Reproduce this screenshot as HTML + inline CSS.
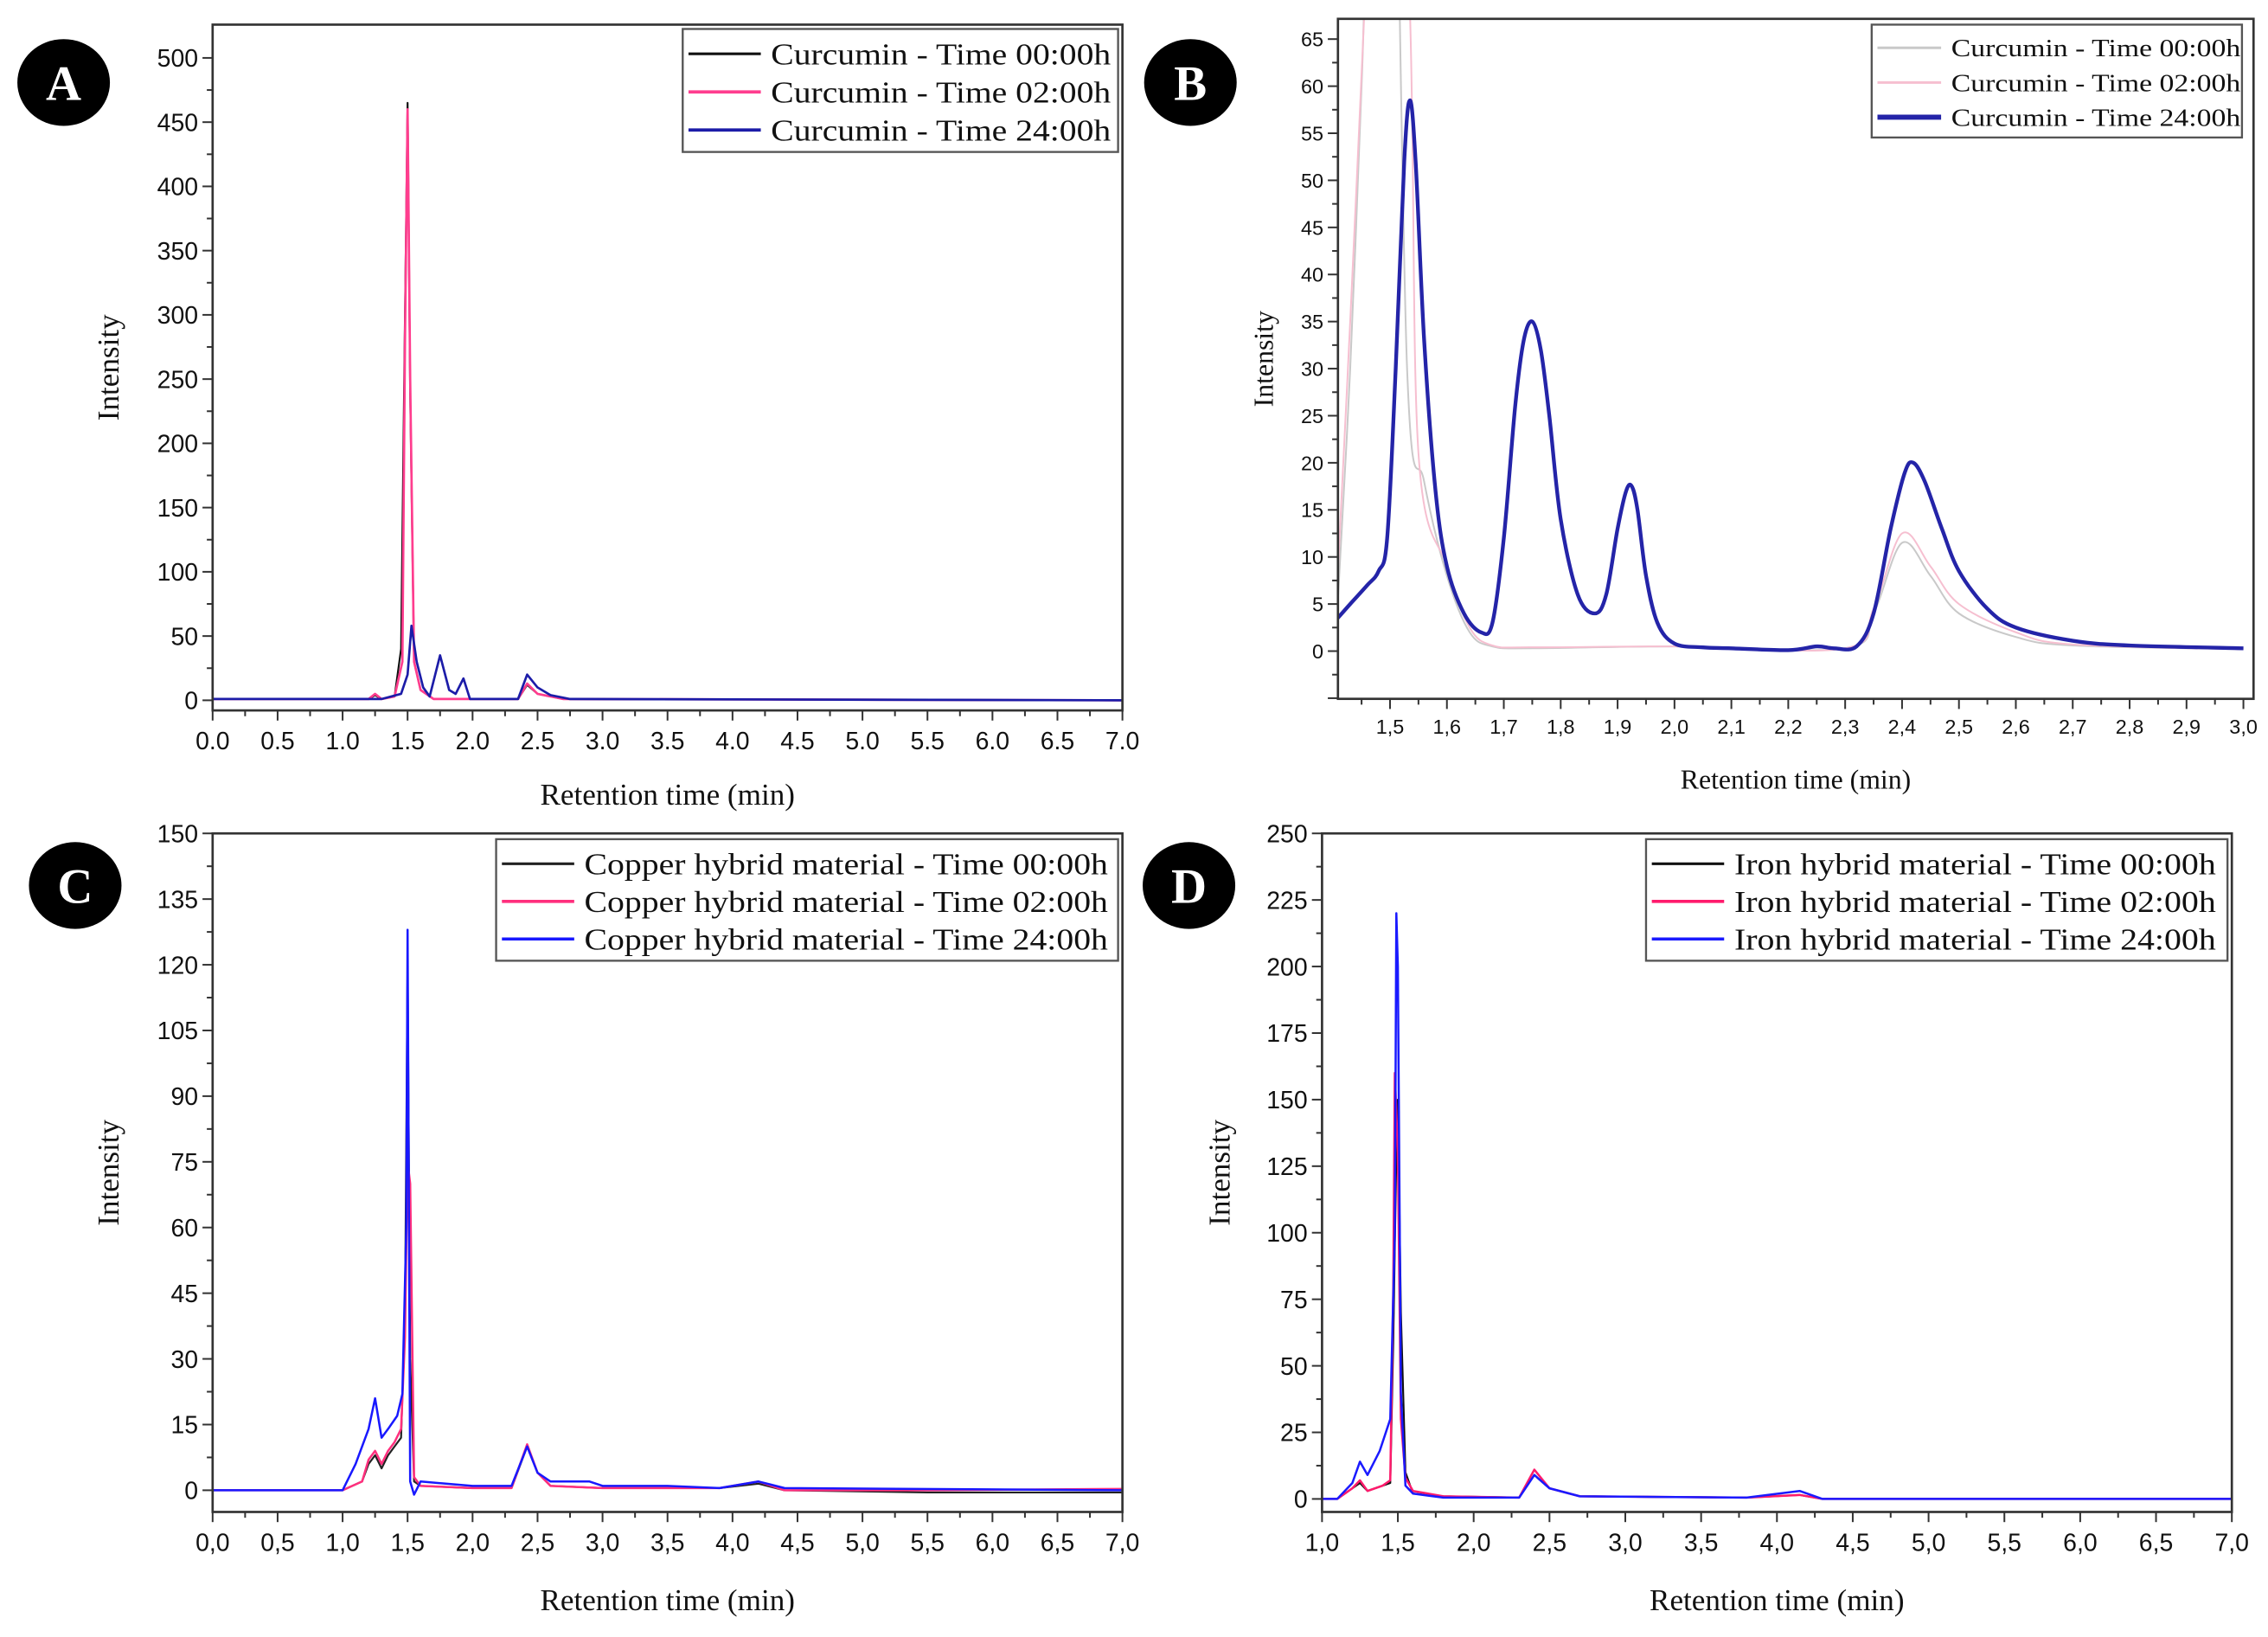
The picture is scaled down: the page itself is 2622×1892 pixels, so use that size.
<!DOCTYPE html>
<html><head><meta charset="utf-8"><style>
html,body{margin:0;padding:0;background:#fff}
svg{display:block}
.tk{font-family:"Liberation Sans",Arial,sans-serif;fill:#111}
.sf{font-family:"Liberation Serif","Times New Roman",serif;fill:#111}
</style></head><body>
<svg id="fig" width="2622" height="1892" viewBox="0 0 1568 1131.4" xmlns="http://www.w3.org/2000/svg"></svg>
<script>
// ---- Panel A data ----
const aX0=[0,1.0,1.2,1.25,1.3,1.4,1.45,1.48,1.5,1.52,1.55,1.6,1.7,2.0,2.35,2.42,2.5,2.7,7.0];
const aY0=[1,1,1,4,1,3,40,300,465,240,30,8,1,1,1,12,5,1,0];
const aX2=[0,1.0,1.2,1.25,1.3,1.4,1.46,1.48,1.5,1.52,1.55,1.6,1.7,2.0,2.35,2.42,2.5,2.7,7.0];
const aY2=[1,1,1,5,1,3,30,280,460,250,30,8,1,1,1,13,5,1,0];
const aX24=[0,1.0,1.3,1.45,1.5,1.53,1.57,1.62,1.67,1.75,1.82,1.87,1.93,1.98,2.35,2.42,2.5,2.6,2.75,7];
const aY24=[1,1,1,5,20,58,30,10,3,35,8,5,17,1,1,20,10,4,1,0];
// ---- Panel B data ----
const bX24=[1.408,1.43,1.46,1.48,1.495,1.51,1.525,1.535,1.545,1.56,1.58,1.6,1.63,1.66,1.68,1.7,1.72,1.735,1.75,1.765,1.78,1.8,1.83,1.86,1.88,1.9,1.915,1.925,1.935,1.95,1.97,2.0,2.05,2.1,2.2,2.25,2.28,2.32,2.35,2.38,2.405,2.42,2.44,2.47,2.5,2.55,2.6,2.7,2.8,3.0];
const bY24=[3.5,5,7,8.5,12,30,52,58.5,52,33,17,9,4,2,3,12,26,33,35,32,25,14,6,4,6,13,17,17.5,15,8,3,0.8,0.4,0.3,0.1,0.5,0.3,0.5,4,13,19,20,18,13,8.5,4.5,2.5,1.1,0.6,0.3];
const bX0=[1.408,1.43,1.45,1.46,1.5,1.53,1.56,1.6,1.64,1.68,1.75,2.0,2.3,2.35,2.4,2.45,2.5,2.6,2.7,3.0];
const bY0=[5,30,60,75,110,30,18,8,2,0.5,0.3,0.5,0.3,4,11.5,8,4,1.5,0.6,0.2];
const bX2=[1.408,1.43,1.455,1.47,1.5,1.535,1.55,1.6,1.64,1.68,1.75,2.0,2.3,2.35,2.4,2.45,2.5,2.6,2.7,3.0];
const bY2=[8,35,68,90,120,68,21,9,2.5,0.6,0.4,0.5,0.3,4.5,12.5,9,5,2,0.7,0.2];
// ---- Panel C data ----
const cX0=[0,1.0,1.15,1.2,1.25,1.3,1.35,1.4,1.45,1.48,1.5,1.52,1.55,1.6,2.0,2.3,2.42,2.5,2.6,3.0,3.9,4.2,4.4,5.5,7];
const cY0=[0,0,2,6,8,5,8,10,12,40,120,30,2,1,0.5,0.5,10,4,1,0.5,0.5,1.5,0,-0.5,-0.5];
const cX2=[0,1.0,1.15,1.2,1.25,1.3,1.35,1.4,1.45,1.48,1.5,1.52,1.55,1.6,2.0,2.3,2.42,2.5,2.6,3.0,3.9,4.2,4.4,5.5,7];
const cY2=[0,0,2,7,9,6,9,11,14,35,75,70,3,1,0.5,0.5,10.5,4,1,0.5,0.5,2,0,0,0.3];
const cX24=[0,1.0,1.1,1.2,1.25,1.3,1.35,1.42,1.46,1.49,1.5,1.52,1.55,1.6,2.0,2.3,2.42,2.5,2.6,2.9,3.0,3.5,3.9,4.2,4.4,7];
const cY24=[0,0,6,14,21,12,14,17,22,60,128,2,-1,2,1,1,10,4,2,2,1,1,0.5,2,0.5,0];
// ---- Panel D data ----
const dX0=[1.0,1.1,1.2,1.25,1.3,1.4,1.45,1.47,1.49,1.5,1.52,1.55,1.6,1.8,2.3,2.4,2.5,2.7,3.8,4.15,4.3,7];
const dY0=[0,0,4,6,3,5,6,60,130,150,70,10,2,1,0.5,9,4,1,0.5,1.5,0,0];
const dX2=[1.0,1.1,1.2,1.25,1.3,1.4,1.45,1.47,1.48,1.5,1.52,1.55,1.6,1.8,2.3,2.4,2.5,2.7,3.8,4.15,4.3,7];
const dY2=[0,0,4,7,3,5,7,80,160,130,30,8,3,1,0.5,11,4,1,0.5,1.5,0,0];
const dX24=[1.0,1.1,1.2,1.25,1.3,1.38,1.45,1.48,1.49,1.5,1.52,1.55,1.6,1.8,2.3,2.4,2.5,2.7,3.8,4.15,4.3,7];
const dY24=[0,0,6,14,9,18,30,100,220,200,40,5,2,0.5,0.5,9,4,1,0.5,3,0,0];

const NS="http://www.w3.org/2000/svg";
const svg=document.getElementById('fig');
function mk(tag,attrs,parent){const e=document.createElementNS(NS,tag);for(const k in attrs)e.setAttribute(k,attrs[k]);(parent||svg).appendChild(e);return e;}

function pathD(P,smooth){
  if(!smooth){return P.map((q,i)=>(i?'L':'M')+q[0].toFixed(2)+','+q[1].toFixed(2)).join('');}
  let d='M'+P[0][0].toFixed(2)+','+P[0][1].toFixed(2);
  for(let i=0;i<P.length-1;i++){
    const p0=P[i-1]||P[i],p1=P[i],p2=P[i+1],p3=P[i+2]||p2;
    const c1=[p1[0]+(p2[0]-p0[0])/6,p1[1]+(p2[1]-p0[1])/6];
    const c2=[p2[0]-(p3[0]-p1[0])/6,p2[1]-(p3[1]-p1[1])/6];
    d+='C'+c1[0].toFixed(2)+','+c1[1].toFixed(2)+' '+c2[0].toFixed(2)+','+c2[1].toFixed(2)+' '+p2[0].toFixed(2)+','+p2[1].toFixed(2);
  }
  return d;
}

function panel(p){
  const g=mk('g',{});
  
  
  const sx=v=>p.px0+(v-p.xa)*(p.px1-p.px0)/(p.xb-p.xa);
  const sy=v=>p.py0+(v-p.ya)*(p.py1-p.py0)/(p.yb-p.ya);
  const cid='clip'+p.id;
  const cp=mk('clipPath',{id:cid},g);
  mk('rect',{x:p.fl,y:p.ft,width:p.fr-p.fl,height:p.fb-p.ft},cp);
  const sg=mk('g',{'clip-path':'url(#'+cid+')'},g);
  p.series.forEach(s=>{
    const P=s.x.map((v,i)=>[sx(v),sy(s.y[i])]);
    const path=mk('path',{d:pathD(P,p.smooth),fill:'none',stroke:s.c,'stroke-width':s.w,'stroke-linejoin':'round'},sg);
    
    
  });
  const fr=mk('rect',{x:p.fl,y:p.ft,width:p.fr-p.fl,height:p.fb-p.ft,fill:'none',stroke:'#333','stroke-width':1.6},g);
  
  
  for(let v=p.yTickMin;v<=p.yb+1e-9;v+=p.yStep/2){
    const y=sy(v); if(y<p.ft-0.5||y>p.fb+0.5)continue;
    const major=Math.abs(Math.round(v/p.yStep)*p.yStep-v)<1e-6;
    mk('line',{x1:p.fl-(major?7:4),x2:p.fl,y1:y,y2:y,stroke:'#333','stroke-width':1.2},g);
    if(major&&v>=0){
      const t=mk('text',{x:p.fl-10,y:y+p.fs*0.36,'text-anchor':'end',class:'tk','font-size':p.fs,fill:p.tc||'#111'},g);
      t.textContent=String(Math.round(v));
      
      
    }
  }
  const n=Math.round((p.xTickMax-p.xTickMin)/(p.xStep/2));
  for(let i=0;i<=n;i++){
    const v=p.xTickMin+i*p.xStep/2; const x=sx(v);
    if(x<p.fl-0.5||x>p.fr+0.5)continue;
    const major=i%2===0;
    mk('line',{x1:x,x2:x,y1:p.fb,y2:p.fb+(major?7:4),stroke:'#333','stroke-width':1.2},g);
    if(major){
      const t=mk('text',{x:x,y:p.fb+10+p.fs,'text-anchor':'middle',class:'tk','font-size':p.fs,fill:p.tc||'#111'},g);
      t.textContent=v.toFixed(1).replace('.',p.dec);
      
      
    }
  }
  const xt=mk('text',{x:(p.fl+p.fr)/2,y:p.xty,'text-anchor':'middle',class:'sf','font-size':p.tfs},g);
  xt.textContent='Retention time (min)';
  
  
  const yt=mk('text',{x:0,y:0,'text-anchor':'middle',class:'sf','font-size':p.tfs,transform:'translate('+p.ytx+','+((p.ft+p.fb)/2)+') rotate(-90)'},g);
  yt.textContent='Intensity';
  
  
  const lg=mk('g',{},g);
  
  
  mk('rect',{x:p.lx,y:p.ly,width:p.lw,height:p.lh,fill:'#fff',stroke:'#555','stroke-width':1.4},lg);
  const rowH=(p.lh-6)/3;
  p.series.forEach((s,i)=>{
    const cy=p.ly+4+rowH*(i+0.5);
    mk('line',{x1:p.lx+4,x2:p.lx+p.lsw,y1:cy,y2:cy,stroke:s.c,'stroke-width':s.lw||s.w+0.6},lg);
    const t=mk('text',{x:p.lx+p.lsw+7,y:cy+p.lfs*0.35,class:'sf','font-size':p.lfs,textLength:p.ltl,lengthAdjust:'spacingAndGlyphs'},lg);
    t.textContent=s.label;
    
    
  });
  const bg=mk('g',{},g);
  
  
  mk('ellipse',{cx:p.bx,cy:p.by,rx:32,ry:30,fill:'#000'},bg);
  const bt=mk('text',{x:p.bx,y:p.by+12,'text-anchor':'middle','font-family':'"Liberation Serif",serif','font-weight':'bold','font-size':34,fill:'#fff'},bg);
  bt.textContent=p.id;
}

panel({id:'A',px0:147,px1:776,xa:0,xb:7,py0:484,py1:40,ya:0,yb:500,fl:147,fr:776,ft:17,fb:491,
  yTickMin:0,yStep:50,xTickMin:0,xTickMax:7,xStep:0.5,dec:'.',fs:17,tfs:21,xty:556,ytx:82,
  lx:472,ly:20,lw:301,lh:85,lsw:54,lfs:21,ltl:235,bx:44,by:57,
  series:[{x:aX0,y:aY0,c:'#111',w:1.3,name:'series-curcumin-00h',label:'Curcumin - Time 00:00h'},
          {x:aX2,y:aY2,c:'#ff3d8e',w:1.6,name:'series-curcumin-02h',label:'Curcumin - Time 02:00h'},
          {x:aX24,y:aY24,c:'#1c1ca8',w:1.6,name:'series-curcumin-24h',label:'Curcumin - Time 24:00h'}]});
panel({id:'B',px0:961,px1:1551,xa:1.5,xb:3.0,py0:450,py1:27,ya:0,yb:65,fl:925,fr:1558,ft:13,fb:483,smooth:true,
  yTickMin:-5,yStep:5,xTickMin:1.4,xTickMax:3.0,xStep:0.1,dec:',',fs:14,tfs:19,tc:'#444',xty:545,ytx:880,
  lx:1294,ly:17,lw:256,lh:78,lsw:48,lfs:17,ltl:200,bx:823,by:57,
  series:[{x:bX0,y:bY0,c:'#c9c9c9',w:1.2,name:'series-curcumin-00h',label:'Curcumin - Time 00:00h'},
          {x:bX2,y:bY2,c:'#f6bfd0',w:1.2,name:'series-curcumin-02h',label:'Curcumin - Time 02:00h'},
          {x:bX24,y:bY24,c:'#2424a8',w:2.6,lw:3.5,name:'series-curcumin-24h',label:'Curcumin - Time 24:00h'}]});
panel({id:'C',px0:147,px1:776,xa:0,xb:7,py0:1030,py1:576,ya:0,yb:150,fl:147,fr:776,ft:576,fb:1045,
  yTickMin:0,yStep:15,xTickMin:0,xTickMax:7,xStep:0.5,dec:',',fs:17,tfs:21,xty:1113,ytx:82,
  lx:343,ly:580,lw:430,lh:84,lsw:54,lfs:21,ltl:362,bx:52,by:612,
  series:[{x:cX0,y:cY0,c:'#222',w:1.3,name:'series-copper-00h',label:'Copper hybrid material - Time 00:00h'},
          {x:cX2,y:cY2,c:'#ff2f7d',w:1.5,name:'series-copper-02h',label:'Copper hybrid material - Time 02:00h'},
          {x:cX24,y:cY24,c:'#1818ff',w:1.5,name:'series-copper-24h',label:'Copper hybrid material - Time 24:00h'}]});
panel({id:'D',px0:914,px1:1543,xa:1,xb:7,py0:1036,py1:576,ya:0,yb:250,fl:914,fr:1543,ft:576,fb:1045,
  yTickMin:0,yStep:25,xTickMin:1,xTickMax:7,xStep:0.5,dec:',',fs:17,tfs:21,xty:1113,ytx:850,
  lx:1138,ly:580,lw:402,lh:84,lsw:54,lfs:21,ltl:333,bx:822,by:612,
  series:[{x:dX0,y:dY0,c:'#111',w:1.3,name:'series-iron-00h',label:'Iron hybrid material - Time 00:00h'},
          {x:dX2,y:dY2,c:'#ff1a6c',w:1.5,name:'series-iron-02h',label:'Iron hybrid material - Time 02:00h'},
          {x:dX24,y:dY24,c:'#1a1aff',w:1.5,name:'series-iron-24h',label:'Iron hybrid material - Time 24:00h'}]});
</script>
</body></html>
